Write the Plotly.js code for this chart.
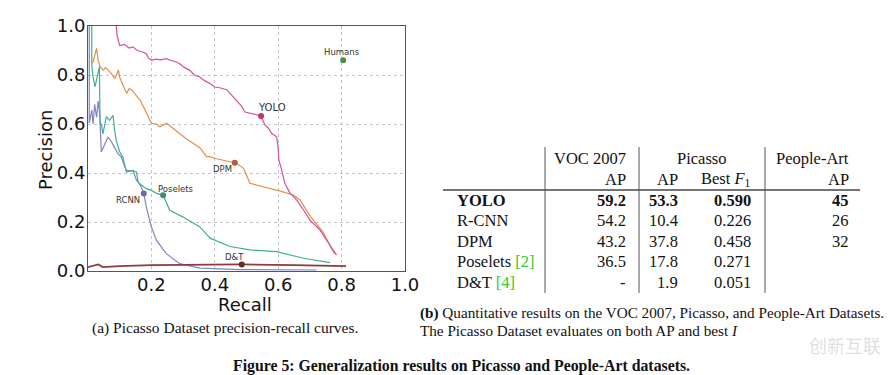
<!DOCTYPE html>
<html>
<head>
<meta charset="utf-8">
<script src="https://cdn.plot.ly/plotly-3.0.1.min.js"></script>
<style>html,body{margin:0;padding:0;background:#fff;}#plot{width:889px;height:375px;}</style>
</head>
<body>
<div id="plot"></div>
<script>
// ---- PR curve data ----
const yoloRecall = [0.089,0.092,0.1,0.115,0.13,0.142,0.155,0.17,0.184,0.19,0.2,0.215,0.23,0.247,0.26,0.279,0.29,0.305,0.321,0.335,0.353,0.37,0.385,0.4,0.415,0.437,0.448,0.458,0.47,0.483,0.495,0.51,0.525,0.546,0.558,0.568,0.579,0.595,0.6,0.602,0.611,0.621,0.637,0.658,0.68,0.7,0.732,0.753,0.784];
const yoloPrecision = [1.0,0.96,0.92,0.925,0.91,0.915,0.9,0.895,0.887,0.87,0.86,0.865,0.862,0.867,0.86,0.853,0.845,0.83,0.819,0.8,0.792,0.775,0.765,0.751,0.748,0.74,0.725,0.71,0.695,0.675,0.649,0.645,0.638,0.633,0.596,0.585,0.562,0.548,0.5,0.453,0.412,0.358,0.318,0.29,0.249,0.208,0.167,0.126,0.065];

const dpmRecall = [0.015,0.022,0.027,0.032,0.038,0.048,0.055,0.069,0.077,0.085,0.096,0.1,0.11,0.122,0.13,0.138,0.15,0.164,0.175,0.185,0.2,0.215,0.227,0.248,0.27,0.29,0.31,0.332,0.355,0.374,0.385,0.405,0.43,0.464,0.49,0.511,0.54,0.574,0.61,0.647,0.669,0.7,0.742,0.769,0.778];
const dpmPrecision = [0.848,0.88,0.909,0.86,0.834,0.82,0.83,0.813,0.8,0.786,0.82,0.79,0.76,0.725,0.745,0.739,0.72,0.698,0.67,0.644,0.603,0.6,0.589,0.603,0.58,0.562,0.54,0.521,0.5,0.467,0.467,0.458,0.45,0.442,0.42,0.358,0.348,0.338,0.325,0.31,0.29,0.225,0.158,0.09,0.07];

const poseletsRecall = [0.012,0.012,0.015,0.022,0.027,0.036,0.038,0.042,0.047,0.058,0.068,0.079,0.084,0.089,0.1,0.11,0.121,0.142,0.153,0.163,0.184,0.2,0.216,0.237,0.258,0.3,0.353,0.385,0.448,0.511,0.595,0.68,0.763];
const poseletsPrecision = [1.0,0.84,0.8,0.752,0.78,0.834,0.6,0.6,0.56,0.63,0.615,0.635,0.574,0.533,0.486,0.465,0.404,0.411,0.37,0.356,0.336,0.329,0.317,0.309,0.248,0.22,0.18,0.134,0.1,0.086,0.079,0.052,0.034];

const rcnnRecall = [0.004,0.004,0.012,0.016,0.021,0.027,0.032,0.037,0.042,0.053,0.063,0.074,0.084,0.095,0.105,0.121,0.137,0.153,0.158,0.168,0.176,0.184,0.2,0.216,0.247,0.289,0.353,0.479,0.721];
const rcnnPrecision = [1.0,0.604,0.657,0.6,0.68,0.627,0.694,0.64,0.486,0.52,0.547,0.527,0.506,0.478,0.465,0.41,0.41,0.404,0.363,0.343,0.316,0.261,0.18,0.125,0.071,0.03,0.012,0.006,0.004];

const dtRecall = [0.0,0.016,0.032,0.047,0.1,0.2,0.353,0.485,0.65,0.814];
const dtPrecision = [0.016,0.022,0.027,0.016,0.02,0.024,0.027,0.027,0.024,0.02];

// operating points
const opNames = ['YOLO','DPM','Poselets','RCNN','D&T','Humans'];
const opRecall = [0.546,0.463,0.237,0.176,0.485,0.805];
const opPrecision = [0.633,0.442,0.309,0.316,0.027,0.86];

const xTicks = [0.2,0.4,0.6,0.8,1.0];
const xTickText = ['0.2','0.4','0.6','0.8','1.0'];
const yTicks = [0,0.2,0.4,0.6,0.8,1.0];
const yTickText = ['0.0','0.2','0.4','0.6','0.8','1.0'];

// ---- table data ----
const methods = ['<b>YOLO</b>','R-CNN','DPM','Poselets <span style="color:#2ecc2e">[2]</span>','D&amp;T <span style="color:#2ecc2e">[4]</span>'];
const vocAP = ['<b>59.2</b>','54.2','43.2','36.5','-'];
const picassoAP = ['<b>53.3</b>','10.4','37.8','17.8','1.9'];
const picassoF1 = ['<b>0.590</b>','0.226','0.458','0.271','0.051'];
const peopleArtAP = ['<b>45</b>','26','32','',''];

const W = 889, H = 375;
const px = v => v / W;
const py = v => 1 - v / H;

const colors = {YOLO:'#d4509f', DPM:'#e48c48', Poselets:'#3fb094', RCNN:'#8384c4', DT:'#8e3b3b'};
const markerColors = ['#c8306c','#b85a3c','#3c8f6a','#6a6ea8','#5a2f2f','#4f8a4f'];

const traces = [
  {x: rcnnRecall, y: rcnnPrecision, mode:'lines', line:{color:colors.RCNN, width:1.2}},
  {x: poseletsRecall, y: poseletsPrecision, mode:'lines', line:{color:colors.Poselets, width:1.2}},
  {x: dpmRecall, y: dpmPrecision, mode:'lines', line:{color:colors.DPM, width:1.2}},
  {x: yoloRecall, y: yoloPrecision, mode:'lines', line:{color:colors.YOLO, width:1.2}},
  {x: dtRecall, y: dtPrecision, mode:'lines', line:{color:colors.DT, width:1.8}},
  {x: opRecall, y: opPrecision, mode:'markers', marker:{color:markerColors, size:6}}
];

const ann = [];
const shapes = [];
const serif = 'Liberation Serif, Times New Roman, serif';
const sans = 'DejaVu Sans, sans-serif';

// curve labels (positioned relative to operating points)
const labelOffsets = {YOLO:[0.036,0.034], DPM:[-0.04,-0.027], Poselets:[0.04,0.027], RCNN:[-0.05,-0.025], 'D&T':[-0.022,0.03], Humans:[-0.003,0.034]};
opNames.forEach((n,i) => {
  const o = labelOffsets[n];
  ann.push({xref:'x', yref:'y', x: opRecall[i]+o[0], y: opPrecision[i]+o[1], text: n.replace('&','&amp;'), showarrow:false,
    font:{family:sans, size: n==='YOLO'?10:8.5, color:'#333'}, xanchor:'center', yanchor:'middle'});
});

// axis titles
ann.push({xref:'paper', yref:'paper', x:px(245), y:py(304), text:'Recall', showarrow:false, font:{family:sans, size:18, color:'#111'}, xanchor:'center', yanchor:'middle'});
ann.push({xref:'paper', yref:'paper', x:px(45), y:py(150), text:'Precision', textangle:-90, showarrow:false, font:{family:sans, size:18, color:'#111'}, xanchor:'center', yanchor:'middle'});

// table
const tf = {family:serif, size:16.5, color:'#111'};
function cell(x, y, t, anchor){ ann.push({xref:'paper', yref:'paper', x:px(x), y:py(y), text:t, showarrow:false, font:tf, xanchor:anchor, yanchor:'middle'}); }
cell(628,158,'VOC 2007','right');
cell(702,158,'Picasso','center');
cell(851,158,'People-Art','right');
cell(628,179,'AP','right');
cell(680,179,'AP','right');
cell(753,179,'Best <i>F</i><sub>1</sub>','right');
cell(851,179,'AP','right');
methods.forEach((m,i) => {
  const y = 200 + i*20.5;
  cell(455, y, m, 'left');
  cell(628, y, vocAP[i], 'right');
  cell(680, y, picassoAP[i], 'right');
  cell(753, y, picassoF1[i], 'right');
  if (peopleArtAP[i]) cell(851, y, peopleArtAP[i], 'right');
});
shapes.push({type:'line', xref:'paper', yref:'paper', x0:px(443), x1:px(860), y0:py(190), y1:py(190), line:{color:'#444', width:1.5}});
[545,639,765].forEach(x => shapes.push({type:'line', xref:'paper', yref:'paper', x0:px(x), x1:px(x), y0:py(147), y1:py(293), line:{color:'#555', width:1}}));

// captions
ann.push({xref:'paper', yref:'paper', x:px(225), y:py(328), text:'(a) Picasso Dataset precision-recall curves.', showarrow:false, font:{family:serif, size:15.5, color:'#111'}, xanchor:'center', yanchor:'middle'});
ann.push({xref:'paper', yref:'paper', x:px(418), y:py(313), text:'<b>(b)</b> Quantitative results on the VOC 2007, Picasso, and People-Art Datasets.', showarrow:false, font:{family:serif, size:15.2, color:'#111'}, xanchor:'left', yanchor:'middle'});
ann.push({xref:'paper', yref:'paper', x:px(418), y:py(330), text:'The Picasso Dataset evaluates on both AP and best <i>I</i>', showarrow:false, font:{family:serif, size:15.2, color:'#111'}, xanchor:'left', yanchor:'middle'});
ann.push({xref:'paper', yref:'paper', x:px(461), y:py(366), text:'<b>Figure 5: Generalization results on Picasso and People-Art datasets.</b>', showarrow:false, font:{family:serif, size:15.8, color:'#111'}, xanchor:'center', yanchor:'middle'});
// watermark
ann.push({xref:'paper', yref:'paper', x:px(845), y:py(345), text:'创新互联', showarrow:false, font:{family:'Noto Sans CJK SC', size:18, color:'rgba(215,215,215,0.8)'}, xanchor:'center', yanchor:'middle'});

const layout = {
  width: W, height: H,
  margin:{l:0,r:0,t:0,b:0},
  paper_bgcolor:'#fff', plot_bgcolor:'#fff',
  showlegend:false,
  xaxis:{domain:[px(88), px(405)], range:[0,1], tickvals:xTicks, ticktext:xTickText, ticks:'', showline:true, mirror:true, linecolor:'#555', linewidth:1,
    showgrid:true, gridcolor:'#c4c4c4', griddash:'dot', zeroline:false, tickfont:{family:sans, size:18, color:'#111'}, ticklabelstandoff:-3, automargin:false, fixedrange:true},
  yaxis:{domain:[py(271), py(26)], range:[0,1], tickvals:yTicks, ticktext:yTickText, ticks:'', showline:true, mirror:true, linecolor:'#555', linewidth:1,
    showgrid:true, gridcolor:'#c4c4c4', griddash:'dot', zeroline:false, tickfont:{family:sans, size:18, color:'#111'}, ticklabelstandoff:-2, automargin:false, fixedrange:true},
  annotations: ann,
  shapes: shapes
};
Plotly.newPlot('plot', traces, layout, {displayModeBar:false, staticPlot:true});
</script>
</body>
</html>
